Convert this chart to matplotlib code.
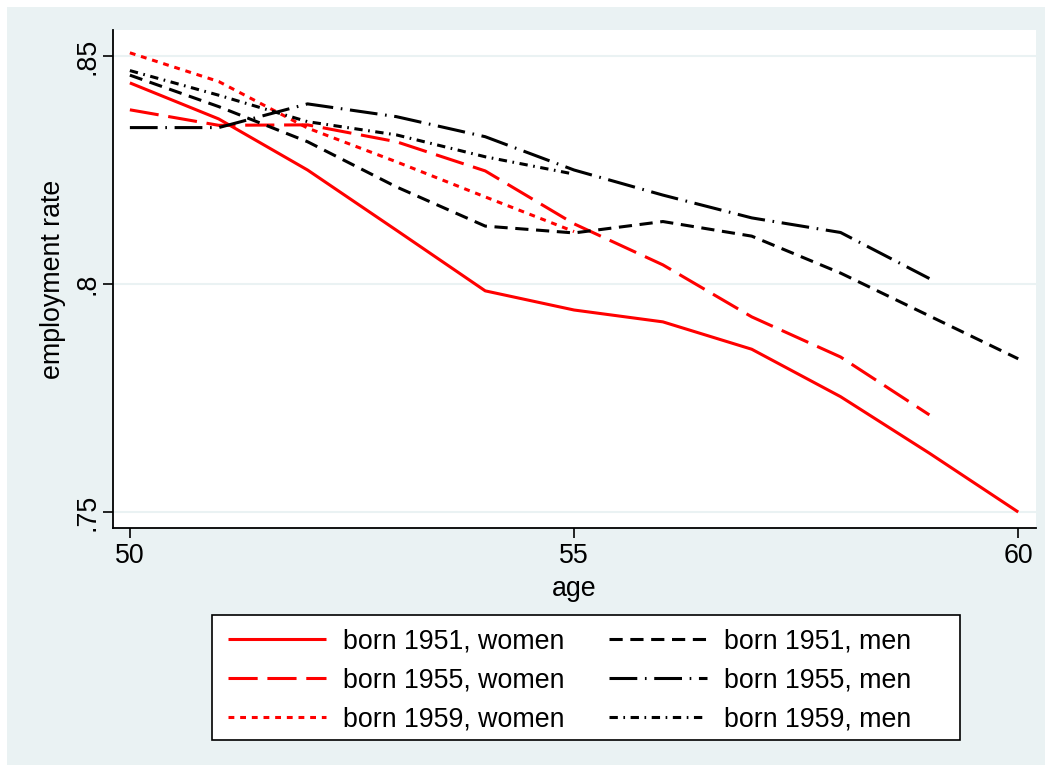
import matplotlib
matplotlib.use("Agg")
import matplotlib.pyplot as plt
from matplotlib.patches import Rectangle

plt.rcParams['font.family'] = ['Liberation Sans', 'DejaVu Sans']
plt.rcParams['lines.scale_dashes'] = False

ages = list(range(50, 61))
women_1951 = [0.8441, 0.8362, 0.8250, 0.8118, 0.7985, 0.7943, 0.7917, 0.7857, 0.7753, 0.7629, 0.7500]
women_1955 = [0.8382, 0.8348, 0.8349, 0.8312, 0.8248, 0.8132, 0.8042, 0.7928, 0.7840, 0.7713]
women_1959 = [0.8507, 0.8444, 0.8342, 0.8268, 0.8191, 0.8115]
men_1951 = [0.8458, 0.8389, 0.8312, 0.8213, 0.8127, 0.8112, 0.8137, 0.8105, 0.8024, 0.7930, 0.7836]
men_1955 = [0.8343, 0.8343, 0.8395, 0.8367, 0.8323, 0.8250, 0.8195, 0.8145, 0.8113, 0.8012]
men_1959 = [0.8468, 0.8414, 0.8356, 0.8327, 0.8279, 0.8241]

labels = ["born 1951, women", "born 1955, women", "born 1959, women",
          "born 1951, men", "born 1955, men", "born 1959, men"]
yticks = [0.75, 0.80, 0.85]
ytick_labels = [".75", ".8", ".85"]
xticks = [50, 55, 60]

bg = "#EAF2F3"
fs = 19.3
fig = plt.figure(figsize=(10.52, 7.72), dpi=100, facecolor="white")
fig.patches.append(Rectangle((7/1052, 7/772), 1 - 14/1052, 1 - 14/772,
                             transform=fig.transFigure, facecolor=bg,
                             edgecolor="none", zorder=-10))
# legend frame (Stata-style equal-width columns)
fig.patches.append(Rectangle((212/1052, 1 - 740/772), (960 - 212)/1052, (740 - 615)/772,
                             transform=fig.transFigure, facecolor="white",
                             edgecolor="black", linewidth=1.2, zorder=-5))

ax = fig.add_axes([113/1052, 1 - 528/772, (1036 - 113)/1052, (528 - 30)/772])
ax.set_facecolor("white")

lw = 2.2
series = [
    (women_1951, "red", "-"),
    (women_1955, "red", (0, (21, 7))),
    (women_1959, "red", (0, (4.2, 4.2))),
    (men_1951, "black", (0, (9.5, 5.5))),
    (men_1955, "black", (0, (20, 5.5, 1.2, 5.5))),
    (men_1959, "black", (0, (6, 4, 1.2, 4))),
]
handles = []
for (vals, col, ls), lab in zip(series, labels):
    h, = ax.plot(ages[:len(vals)], vals, color=col, linestyle=ls, linewidth=lw,
                 label=lab, solid_capstyle="butt", dash_capstyle="butt")
    handles.append(h)

ax.set_xlim(49.81, 60.2)
ax.set_ylim(0.7465, 0.8557)
ax.set_xticks(xticks)
ax.set_xticklabels([str(x) for x in xticks])
ax.set_yticks(yticks)
ax.set_yticklabels(ytick_labels, rotation=90, va="center")
for y in yticks:
    ax.axhline(y, color=bg, linewidth=1.5, zorder=0)

for s in ["top", "right"]:
    ax.spines[s].set_visible(False)
for s in ["left", "bottom"]:
    ax.spines[s].set_color("black")
    ax.spines[s].set_linewidth(1.3)

ax.tick_params(axis="both", direction="out", length=7, width=1.2, labelsize=fs,
               colors="black")
ax.tick_params(axis="x", pad=4)
ax.tick_params(axis="y", pad=2)
ax.set_xlabel("age", fontsize=fs, labelpad=5)
ax.set_ylabel("employment rate", fontsize=fs, labelpad=6)

leg = fig.legend(handles, labels, loc="upper left",
                 bbox_to_anchor=(228/1052, 1 - 628/772),
                 ncol=2, fontsize=fs, frameon=False,
                 handlelength=3.65, handletextpad=0.65, columnspacing=1.65,
                 labelspacing=0.5, borderpad=0, borderaxespad=0)

fig.savefig("out.png", dpi=100, facecolor="white")
